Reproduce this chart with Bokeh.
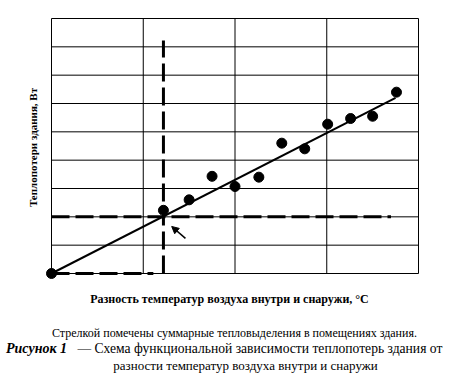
import math
from bokeh.plotting import figure
from bokeh.models import Arrow, NormalHead, Range1d
from bokeh.core.properties import value
from bokeh.embed import file_html
from bokeh.resources import INLINE

# Data
x_points = [0, 12.2, 15.0, 17.5, 20.0, 22.6, 25.1, 27.6, 30.1, 32.6, 35.0, 37.6]
y_points = [0, 2.23, 2.6, 3.43, 3.07, 3.4, 4.6, 4.4, 5.27, 5.47, 5.55, 6.4]
x_fit = [0, 37.5]
y_fit = [0, 6.2]
heat_gain_x = 12.2      # temperature difference where losses equal heat gains
heat_gain_y = 2.0       # heat gain level
x_ticks = [0, 10, 20, 30, 40]
y_ticks = [0, 1, 2, 3, 4, 5, 6, 7, 8, 9]

x_label = "Разность температур воздуха внутри и снаружи, °С"
y_label = "Теплопотери здания, Вт"
note = "Стрелкой помечены суммарные тепловыделения в помещениях здания."
cap_bold = "Рисунок  1"
cap_1 = "— Схема функциональной зависимости теплопотерь здания от"
cap_2 = "разности температур воздуха внутри и снаружи"

SERIF = value("Liberation Serif")

# pixel geometry of the chart box inside the 452x385 canvas
W, H = 452, 385
left, right, top, bottom = 51, 418, 18, 273
xmin, xmax = x_ticks[0], x_ticks[-1]
ymin, ymax = y_ticks[0], y_ticks[-1]
kx = (right - left) / (xmax - xmin)
ky = (bottom - top) / (ymax - ymin)

p = figure(width=W, height=H, output_backend="svg", toolbar_location=None,
           x_range=Range1d(xmin - left / kx, xmin + (W - left) / kx),
           y_range=Range1d(ymin - (H - bottom) / ky, ymin + bottom / ky),
           min_border=0)
p.xaxis.visible = False
p.yaxis.visible = False
p.grid.visible = False
p.outline_line_color = None
p.background_fill_color = "white"
p.border_fill_color = "white"

# grid / box
p.segment(x0=x_ticks, y0=[ymin] * len(x_ticks), x1=x_ticks, y1=[ymax] * len(x_ticks),
          line_color="black", line_width=1)
p.segment(x0=[xmin] * len(y_ticks), y0=y_ticks, x1=[xmax] * len(y_ticks), y1=y_ticks,
          line_color="black", line_width=1)

# dashed guide lines
p.line([heat_gain_x, heat_gain_x], [0, 8.22], line_color="black", line_width=3, line_dash="18 6")
p.line([0, 37.0], [heat_gain_y, heat_gain_y], line_color="black", line_width=3, line_dash="18 6")
p.line([0, 11.1], [0, 0], line_color="black", line_width=3, line_dash="18 6")

# regression line
p.line(x_fit, y_fit, line_color="black", line_width=2)

# data points
p.scatter(x_points, y_points, size=10, fill_color="black", line_color="black")

# arrow pointing to intersection
p.add_layout(Arrow(end=NormalHead(size=7, fill_color="black", line_color="black"),
                   x_start=14.6, y_start=1.24, x_end=13.1, y_end=1.66,
                   line_color="black", line_width=1.5))

def px_x(px):
    return xmin + (px - left) / kx

def px_y(py):
    return ymin + (bottom - py) / ky

# axis titles
p.text(x=[px_x(229)], y=[px_y(298)], text=[x_label], text_font=SERIF,
       text_font_size="12px", text_font_style="bold", text_align="center",
       text_baseline="middle", text_color="black")
p.text(x=[px_x(32)], y=[px_y(147)], text=[y_label], text_font=SERIF,
       text_font_size="11px", text_font_style="bold", text_align="center",
       text_baseline="middle", text_color="black", angle=math.pi / 2)

# captions
p.text(x=[px_x(234)], y=[px_y(332)], text=[note], text_font=SERIF,
       text_font_size="12px", text_align="center", text_baseline="middle",
       text_color="black")
p.text(x=[px_x(70)], y=[px_y(348)], text=[cap_bold], text_font=SERIF,
       text_font_size="14px", text_font_style="bold italic", text_align="right",
       text_baseline="middle", text_color="black")
p.text(x=[px_x(77)], y=[px_y(348)], text=[cap_1], text_font=SERIF,
       text_font_size="13.6px", text_align="left", text_baseline="middle",
       text_color="black")
p.text(x=[px_x(245)], y=[px_y(365)], text=[cap_2], text_font=SERIF,
       text_font_size="13px", text_align="center", text_baseline="middle",
       text_color="black")

open("out.html", "w").write(file_html(p, INLINE))
